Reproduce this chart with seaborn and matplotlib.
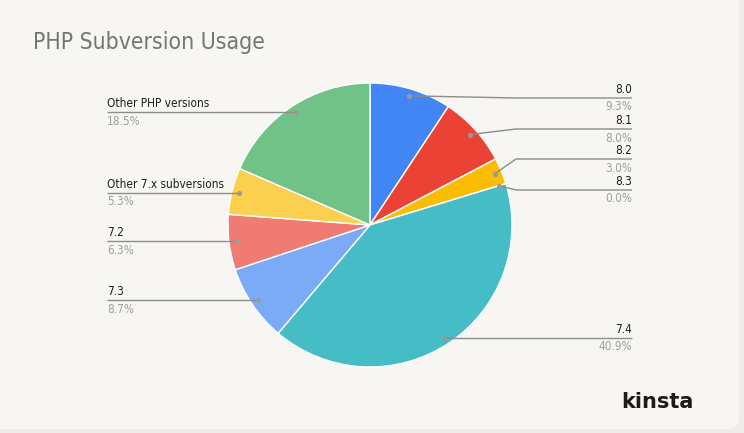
import numpy as np
import matplotlib
matplotlib.use("Agg")
import matplotlib.pyplot as plt
from matplotlib.patches import FancyBboxPatch
import seaborn as sns

# slices in clockwise order starting at 12 o'clock
versions = ["8.0", "8.1", "8.2", "8.3", "7.4", "7.3", "7.2",
            "Other 7.x subversions", "Other PHP versions"]
shares = [9.3, 8.0, 3.0, 0.0, 40.9, 8.7, 6.3, 5.3, 18.5]
colors = ["#4285F4", "#EA4335", "#FBBC04", "#34A853", "#46BDC6",
          "#7BAAF7", "#F07B72", "#FCD04F", "#71C287"]

W, H = 744, 433
CX, CY, R = 370, 225, 142   # pie centre / radius in pixels (y down)

# label layout: side and the y (pixels) of the label line, None = same as dot
label_side = {"8.0": "right", "8.1": "right", "8.2": "right", "8.3": "right",
              "7.4": "right", "7.3": "left", "7.2": "left",
              "Other 7.x subversions": "left", "Other PHP versions": "left"}
label_y = {"8.0": 98, "8.1": 129, "8.2": 159, "8.3": 190}

sns.set_theme(style="white")
plt.rcParams["font.family"] = ["DejaVu Sans"]

fig = plt.figure(figsize=(W / 100, H / 100), dpi=100)
fig.patch.set_facecolor("#EFECE9")
ax = fig.add_axes([0, 0, 1, 1])
ax.set_facecolor("none")

# card background
card = FancyBboxPatch((-20, 4), W - 5 + 20, H + 20, boxstyle="round,pad=0,rounding_size=12",
                      facecolor="#F8F6F3", edgecolor="none", zorder=0)
ax.add_patch(card)

wedges, _ = ax.pie(shares, colors=colors, startangle=90, counterclock=False,
                   center=(CX, H - CY), radius=R,
                   wedgeprops=dict(edgecolor="white", linewidth=1.0))
for w in wedges:
    w.set_zorder(2)

ax.set_xlim(0, W)
ax.set_ylim(0, H)
ax.set_aspect("equal")
ax.axis("off")

line_col = "#8C8C8C"
x_left, x_right, x_elbow = 107, 632, 516
for w, name, val in zip(wedges, versions, shares):
    mid = np.deg2rad((w.theta1 + w.theta2) / 2)
    dx = CX + 0.95 * R * np.cos(mid)
    dy = (H - CY) + 0.95 * R * np.sin(mid)
    side = label_side[name]
    ly = H - label_y[name] if name in label_y else dy
    if side == "right":
        if name in label_y:
            xs, ys = [dx, x_elbow, x_right], [dy, ly, ly]
        else:
            xs, ys = [dx, x_right], [dy, ly]
        tx, ha = x_right, "right"
    else:
        xs, ys = [dx, x_left], [dy, ly]
        tx, ha = x_left, "left"
    ax.plot(xs, ys, color=line_col, lw=1.0, zorder=3, solid_capstyle="butt")
    ax.plot([dx], [dy], "o", ms=2.6, color="#9A9A9A", zorder=4)
    ax.text(tx, ly + 2, name, ha=ha, va="bottom", fontsize=8.5,
            color="#1E1E1E", fontstretch="condensed")
    ax.text(tx, ly - 2.5, f"{val:.1f}%", ha=ha, va="top", fontsize=8.5,
            color="#9E9E9E", fontstretch="condensed")

ax.text(33, H - 43, "PHP Subversion Usage", ha="left", va="center",
        fontsize=16.5, color="#757575", fontstretch="condensed")
ax.text(657, H - 402, "kinsta", ha="center", va="center", fontsize=15,
        fontweight="bold", color="#1C1A1A")

fig.savefig("out.png", dpi=100, facecolor=fig.get_facecolor())
